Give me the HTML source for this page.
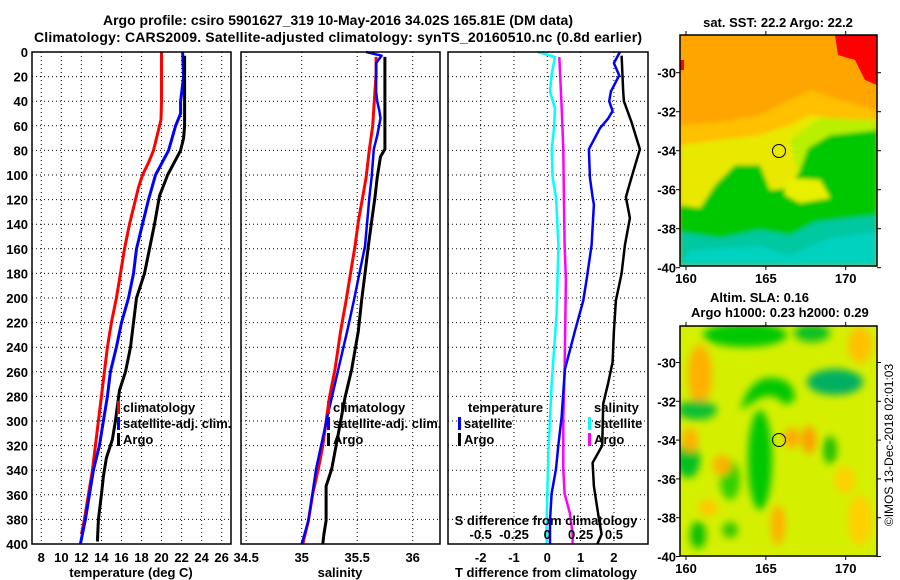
<!DOCTYPE html>
<html><head><meta charset="utf-8"><style>
html,body{margin:0;padding:0;background:#fff;}
svg{display:block;font-family:"Liberation Sans",sans-serif;}
.t{font-weight:bold;font-size:13px;}
.h{font-weight:bold;font-size:14px;}
</style></head><body>
<svg id="c" width="900" height="580" viewBox="0 0 900 580">
<defs>
<filter id="b1" x="-20%" y="-20%" width="140%" height="140%"><feGaussianBlur stdDeviation="2"/></filter>
<filter id="b2" x="-30%" y="-30%" width="160%" height="160%"><feGaussianBlur stdDeviation="4"/></filter>
<clipPath id="m1c"><rect x="680" y="35" width="197" height="231"/></clipPath>
<clipPath id="m2c"><rect x="680" y="326" width="197" height="230"/></clipPath>
</defs>
<text class="h" x="338" y="25" text-anchor="middle">Argo profile: csiro 5901627_319 10-May-2016 34.02S 165.81E (DM data)</text>
<text class="h" x="338" y="42" text-anchor="middle" textLength="608">Climatology: CARS2009. Satellite-adjusted climatology: synTS_20160510.nc (0.8d earlier)</text>
<g id="grid"></g>
<g id="lines"></g>
<g id="frames"></g>

<!-- SST map -->
<g clip-path="url(#m1c)">
<rect x="680" y="35" width="197" height="231" fill="#ffa500"/>
<g filter="url(#b1)">
<polygon points="680,125 720,122 760,115 790,100 810,90 840,100 877,110 877,266 680,266" fill="#ffc000"/>
<polygon points="680,145 720,140 760,135 790,125 810,115 840,120 877,125 877,266 680,266" fill="#e8e800"/>
<polygon points="790,140 820,118 877,120 877,200 800,180" fill="#b8f000"/>
<polygon points="680,205 700,208 715,185 735,165 760,165 770,190 790,188 800,170 808,148 830,135 877,130 877,266 680,266" fill="#00c800"/>
<polygon points="785,178 820,180 830,198 800,203 785,195" fill="#e8f000"/>
<polygon points="680,232 720,238 760,230 790,235 815,222 877,215 877,266 680,266" fill="#00c8a0"/>
<polygon points="690,250 760,246 790,255 830,238 877,232 877,266 680,266" fill="#00d2c0"/>
</g>
<polygon points="835,35 877,35 877,85 865,80 855,60 838,55" fill="#ff0000"/>
<rect x="680" y="60" width="4" height="10" fill="#ff0000"/>
<circle cx="779" cy="151" r="6.5" fill="none" stroke="#000" stroke-width="1"/>
</g>
<rect x="680" y="35" width="197" height="231" fill="none" stroke="#000" stroke-width="1.5"/>
<text class="t" x="778" y="27" text-anchor="middle">sat. SST: 22.2 Argo: 22.2</text>

<!-- SLA map -->
<g clip-path="url(#m2c)">
<rect x="680" y="326" width="197" height="230" fill="#d4f000"/>
<g filter="url(#b2)">
<ellipse cx="700" cy="375" rx="12" ry="30" fill="#ffb000"/>
<ellipse cx="745" cy="335" rx="42" ry="12" fill="#00c800"/>
<ellipse cx="812" cy="333" rx="18" ry="9" fill="#10c020"/>
<ellipse cx="835" cy="382" rx="28" ry="13" fill="#00b060"/>
<ellipse cx="697" cy="410" rx="20" ry="10" fill="#10c030"/>
<path d="M740,410 Q750,375 775,378 Q795,380 795,400 L785,405 Q775,392 760,398 Z" fill="#00c800"/>
<ellipse cx="760" cy="460" rx="12" ry="50" fill="#00c800"/>
<ellipse cx="730" cy="480" rx="10" ry="20" fill="#30d000"/>
<ellipse cx="688" cy="460" rx="12" ry="18" fill="#00c020"/>
<ellipse cx="690" cy="440" rx="8" ry="12" fill="#ffb000"/>
<ellipse cx="708" cy="508" rx="10" ry="8" fill="#ffc800"/>
<ellipse cx="722" cy="465" rx="9" ry="10" fill="#ffb000"/>
<ellipse cx="792" cy="438" rx="8" ry="10" fill="#ffa800"/>
<ellipse cx="809" cy="440" rx="7" ry="14" fill="#ff9c00"/>
<ellipse cx="830" cy="450" rx="7" ry="14" fill="#20c000"/>
<ellipse cx="698" cy="535" rx="8" ry="14" fill="#10c000"/>
<ellipse cx="730" cy="530" rx="8" ry="8" fill="#30c800"/>
<ellipse cx="778" cy="525" rx="7" ry="20" fill="#ffb000"/>
<ellipse cx="860" cy="345" rx="12" ry="18" fill="#ffc000"/>
<ellipse cx="860" cy="520" rx="12" ry="25" fill="#ffd000"/>
<ellipse cx="845" cy="480" rx="10" ry="14" fill="#ffd000"/>
</g>
<circle cx="779" cy="440" r="6.5" fill="none" stroke="#000" stroke-width="1"/>
</g>
<rect x="680" y="326" width="197" height="230" fill="none" stroke="#000" stroke-width="1.5"/>
<text class="t" x="710" y="302">Altim. SLA: 0.16</text>
<text class="t" x="691" y="317">Argo h1000: 0.23 h2000: 0.29</text>
<text x="893" y="445" transform="rotate(-90 893 445)" text-anchor="middle" font-size="12">©IMOS 13-Dec-2018 02:01:03</text>
<g id="maptick"></g>
</svg>
<script>
// ---- data ----
const depthTicks = [0,20,40,60,80,100,120,140,160,180,200,220,240,260,280,300,320,340,360,380,400];
const tempTicks = [8,10,12,14,16,18,20,22,24,26];
const salTicks = [34.5,35,35.5,36];
const salTickLabels = ["34.5","35","35.5","36"];
const dTTicks = [-2,-1,0,1,2];
const dSTicks = [-0.5,-0.25,0,0.25,0.5];
const dSTickLabels = ["-0.5","-0.25","0","0.25","0.5"];

const climTDepth = [0,20,40,55,60,70,80,90,100,110,120,140,160,180,200,220,240,260,280,300,320,340,360,380,392];
const climTVal = [20.0,20.0,20.0,19.95,19.8,19.5,19.2,18.7,18.1,17.7,17.4,16.8,16.3,15.9,15.5,15.0,14.6,14.3,14.0,13.7,13.4,13.1,12.7,12.3,12.0];
const satTDepth = [0,20,40,50,60,80,100,120,140,160,180,200,220,240,260,280,300,320,340,360,380,400];
const satTVal = [22.1,22.2,21.9,21.9,21.4,20.7,19.4,18.7,18.1,17.5,17.2,16.7,16.0,15.5,14.9,14.6,14.2,13.8,13.2,12.8,12.4,11.9];
const argoTDepth = [3,20,40,60,70,80,100,117,140,160,180,200,220,240,260,275,300,315,330,345,360,380,398];
const argoTVal = [22.3,22.3,22.3,22.3,22.2,21.9,20.6,19.8,19.3,18.8,18.3,17.5,17.2,16.9,16.4,15.8,15.4,15.1,14.5,14.2,14.0,13.7,13.6];

const climSDepth = [4,18,46,60,79,102,118,138,158,180,202,227,258,281,320,339,359,381,400];
const climSVal = [35.67,35.67,35.65,35.64,35.61,35.58,35.55,35.51,35.48,35.44,35.40,35.35,35.30,35.25,35.19,35.15,35.10,35.06,35.01];
const satSDepth = [0,3,9,32,40,48,54,68,79,102,118,138,158,180,202,227,258,297,339,381,400];
const satSVal = [35.58,35.72,35.67,35.67,35.68,35.70,35.71,35.68,35.65,35.63,35.61,35.59,35.57,35.52,35.47,35.41,35.33,35.23,35.13,35.06,35.0];
const argoSDepth = [4,79,85,102,118,138,158,180,202,227,258,281,320,339,353,381,392,400];
const argoSVal = [35.75,35.75,35.71,35.68,35.66,35.63,35.60,35.57,35.54,35.51,35.45,35.39,35.31,35.27,35.22,35.22,35.20,35.19];

const satDTDepth = [0,9,19,32,40,48,54,62,79,102,118,124,157,185,202,227,258,297,320,339,359,381,400];
const satDTVal = [2.18,2.0,2.16,1.91,1.86,1.96,1.83,1.58,1.25,1.28,1.36,1.40,1.33,1.18,1.08,0.83,0.53,0.43,0.33,0.26,0.13,0.08,0.08];
const argoDTDepth = [3,32,40,57,79,102,118,135,157,180,202,227,252,269,286,320,334,353,381,392,400];
const argoDTVal = [2.23,2.28,2.3,2.53,2.78,2.53,2.36,2.48,2.33,2.23,2.06,2.0,1.96,1.83,1.68,1.65,1.36,1.40,1.56,1.63,1.5];
const satDSDepth = [0,4,18,32,46,62,79,102,118,157,213,269,325,381,400];
const satDSVal = [-0.07,0.058,0.033,0.02,0.058,0.05,0.033,0.04,0.065,0.083,0.07,0.033,0.008,-0.005,-0.005];
const argoDSDepth = [4,46,79,118,157,185,258,297,339,359,375,392,400];
const argoDSVal = [0.09,0.108,0.12,0.125,0.13,0.14,0.13,0.12,0.12,0.13,0.17,0.19,0.19];

const mapLonTicks = [160,165,170];
const mapLatTicks = [-30,-32,-34,-36,-38,-40];

// ---- scales ----
const Y0 = 52, Y1 = 544;
const yD = d => Y0 + d * (Y1 - Y0) / 400;
const xT = t => 41.3 + (t - 8) * 10.02;
const xS = s => 301.7 + (s - 35) * 111;
const xDT = v => 547.3 + v * 33.3;
const xDS = v => 547.3 + v * 4 * 33.3;
const panels = [{x:32,w:199,name:'temperature-panel'},{x:241,w:199,name:'salinity-panel'},{x:448,w:200,name:'difference-panel'}];

const NS = 'http://www.w3.org/2000/svg';
function mk(tag, attrs, parent){ const e=document.createElementNS(NS,tag); for(const k in attrs) e.setAttribute(k,attrs[k]); parent.appendChild(e); return e; }
const grid = document.getElementById('grid'), lines = document.getElementById('lines'), frames = document.getElementById('frames');
const dot = {stroke:'#000','stroke-width':1,'stroke-dasharray':'1,3'};

panels.forEach(p=>{
  depthTicks.forEach(d=>{ if(d>0&&d<400){ const l=mk('line',Object.assign({x1:p.x,x2:p.x+p.w,y1:yD(d),y2:yD(d)},dot),grid);
      }});
  const r=mk('rect',{x:p.x,y:Y0,width:p.w,height:Y1-Y0,fill:'none',stroke:'#000','stroke-width':1.5},frames);
   
});
function vgrid(xs, x0, x1){ xs.forEach(x=>{ if(x>x0+2&&x<x1-2){ const l=mk('line',Object.assign({x1:x,x2:x,y1:Y0,y2:Y1},dot),grid);
    }}); }
vgrid(tempTicks.map(xT),32,231);
vgrid(salTicks.map(xS),241,440);
vgrid(dTTicks.map(xDT),448,648);

depthTicks.forEach(d=>{ const t=mk('text',{x:28,y:yD(d)+5,'text-anchor':'end',class:'t'},frames); t.textContent=d;
    });
tempTicks.forEach(v=>{ const t=mk('text',{x:xT(v),y:562,'text-anchor':'middle',class:'t'},frames); t.textContent=v;
    });
salTicks.forEach((v,i)=>{ const t=mk('text',{x:xS(v),y:562,'text-anchor':'middle',class:'t'},frames); t.textContent=salTickLabels[i];
    });
dTTicks.forEach(v=>{ const t=mk('text',{x:xDT(v),y:562,'text-anchor':'middle',class:'t'},frames); t.textContent=v;
    });
dSTicks.forEach((v,i)=>{ const t=mk('text',{x:xDS(v),y:539,'text-anchor':'middle',class:'t'},frames); t.textContent=dSTickLabels[i];
    });
[['temperature (deg C)',131,'temperature-axis-title'],['salinity',340,'salinity-axis-title'],['T difference from climatology',546,'t-diff-axis-title']].forEach(a=>{
  const t=mk('text',{x:a[1],y:577,'text-anchor':'middle',class:'t'},frames); t.textContent=a[0];
    });
{ const t=mk('text',{x:546,y:525,'text-anchor':'middle',class:'t'},frames); t.textContent='S difference from climatology';
    }

function series(dep, val, xf, color, w, name){
  const pts = dep.map((d,i)=>xf(val[i]).toFixed(1)+','+yD(d).toFixed(1)).join(' ');
  const p = mk('polyline',{points:pts,fill:'none',stroke:color,'stroke-width':w,'stroke-linejoin':'round'},lines);
   
}
series(climTDepth,climTVal,xT,'#ff0000',3,'climatology-temperature-line');
series(satTDepth,satTVal,xT,'#0000ff',3,'satellite-temperature-line');
series(argoTDepth,argoTVal,xT,'#000',3,'argo-temperature-line');
series(climSDepth,climSVal,xS,'#ff0000',3,'climatology-salinity-line');
series(satSDepth,satSVal,xS,'#0000ff',2.5,'satellite-salinity-line');
series(argoSDepth,argoSVal,xS,'#000',3,'argo-salinity-line');
series(satDSDepth,satDSVal,xDS,'#00ffff',2.5,'satellite-s-diff-line');
series(argoDSDepth,argoDSVal,xDS,'#ff00ff',2.5,'argo-s-diff-line');
series(satDTDepth,satDTVal,xDT,'#0000ff',2.5,'satellite-t-diff-line');
series(argoDTDepth,argoDTVal,xDT,'#000',2.5,'argo-t-diff-line');

function legend(x, y, color, label, name){
  const r=mk('rect',{x:x,y:y-11,width:3,height:13,fill:color},frames);
   
  const t=mk('text',{x:x+6,y:y,class:'t'},frames); t.textContent=label;
   
}
legend(117,412,'#ff0000','climatology','legend-climatology');
legend(117,428,'#0000ff','satellite-adj. clim.','legend-satellite');
legend(117,444,'#000','Argo','legend-argo');
legend(327,412,'#ff0000','climatology','legend-climatology-sal');
legend(327,428,'#0000ff','satellite-adj. clim.','legend-satellite-sal');
legend(327,444,'#000','Argo','legend-argo-sal');
{ const t=mk('text',{x:468,y:412,class:'t'},frames); t.textContent='temperature';
    }
{ const t=mk('text',{x:594,y:412,class:'t'},frames); t.textContent='salinity';
    }
legend(458,428,'#0000ff','satellite','legend-t-satellite');
legend(458,444,'#000','Argo','legend-t-argo');
legend(588,428,'#00ffff','satellite','legend-s-satellite');
legend(588,444,'#ff00ff','Argo','legend-s-argo');

const mt = document.getElementById('maptick');
const xLon = lo => 686 + (lo-160)*15.97;
[[72.7,19.5,279+4],[362.5,19.4,569+4]].forEach((m,mi)=>{
  const top = mi===0?35:326, bot = mi===0?266:556;
  mapLonTicks.forEach(lo=>{
    const t=mk('text',{x:xLon(lo),y:m[2],'text-anchor':'middle',class:'t'},mt); t.textContent=lo;
     
    mk('line',{x1:xLon(lo),x2:xLon(lo),y1:top,y2:top-4,stroke:'#000'},mt);
    mk('line',{x1:xLon(lo),x2:xLon(lo),y1:bot,y2:bot+4,stroke:'#000'},mt);
  });
  mapLatTicks.forEach(la=>{
    const y = m[0] + (-30-la)*m[1];
    if(y<top-2) return;
    const t=mk('text',{x:676,y:y+5,'text-anchor':'end',class:'t'},mt); t.textContent=la;
     
    mk('line',{x1:877,x2:881,y1:y,y2:y,stroke:'#000'},mt);
    mk('line',{x1:676,x2:680,y1:y,y2:y,stroke:'#000'},mt);
  });
});
</script>
</body></html>
